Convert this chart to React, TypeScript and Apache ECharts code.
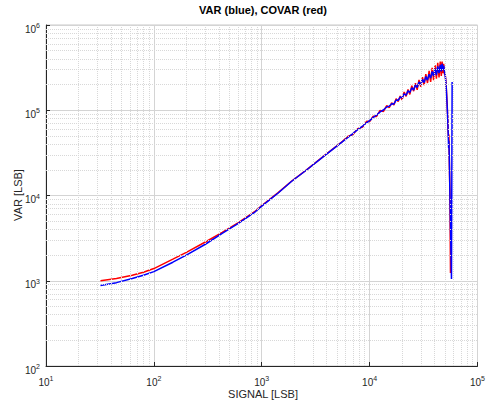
import React, { useEffect, useRef } from "react";
import * as echarts from "echarts";

// ---- data ----
const SIGNAL_RED = [
  32, 45, 63, 80, 100, 150, 200, 300, 430, 607, 865, 1000, 1420, 1884, 2600, 3830, 5500,
  6200, 7000, 7750, 8600, 9400, 10000, 10800, 11600, 12500, 13400, 14400, 15200, 15700,
  16000, 16800, 17600, 18400, 19200, 20000, 20900, 21800, 22700, 23600, 24600, 25600, 26600,
  27600, 28700, 29800, 30900, 32000, 33200, 34400, 35600, 36800, 38000, 39200, 40400, 41600,
  42800, 44000, 45200, 46200, 47000, 47800, 48600, 49400, 50200,
  50500, 51300, 52300, 53000, 53500, 54000, 54300, 55000, 55500, 56200,
];
const COVAR_RED = [
  1000, 1060, 1160, 1260, 1390, 1790, 2150, 2850, 3700, 4800, 6500, 7600, 10800, 14700, 20000, 29500, 42200,
  48900, 51900, 60800, 63500, 74400, 73700, 85300, 84500, 99800, 96400, 113400, 107400, 116000,
  122700, 115100, 136700, 126600, 147000, 132600, 163700, 145400, 175400, 153200, 194400, 167300, 207400,
  173600, 226700, 188700, 245200, 197300, 264600, 208800, 289900, 214800, 313600, 225200, 337700, 235300,
  359500, 241900, 372200, 253300, 373300, 273000, 349800, 266800, 260100,
  246000, 190000, 120000, 80000, 55000, 48000, 52000, 20000, 10600, 1230,
];
const SIGNAL_BLUE = [
  32, 45, 63, 80, 100, 150, 200, 300, 430, 607, 865, 1000, 1420, 1884, 2600, 3830, 5500,
  6200, 7000, 7750, 8600, 9400, 10000, 10800, 11600, 12500, 13400, 14400, 15200, 15700,
  16000, 16800, 17600, 18400, 19200, 20000, 20900, 21800, 22700, 23600, 24600, 25600, 26600,
  27600, 28700, 29800, 30900, 32000, 33200, 34400, 35600, 36800, 38000, 39200, 40400, 41600,
  42800, 44000, 45200, 46200, 47000, 47800, 48600, 49400, 50200,
  50500, 51300, 52300, 53000, 53500, 54000, 54300, 54800, 55500, 56500, 57400, 58200,
];
const VAR_BLUE = [
  880, 950, 1065, 1160, 1280, 1650, 2000, 2680, 3600, 4700, 6400, 7500, 10700, 14600, 19900, 29300, 42000,
  47300, 53300, 59300, 65000, 71800, 75600, 82500, 87400, 95800, 100600, 109100, 111900, 115800,
  119200, 118700, 131600, 130600, 142900, 139800, 156200, 150000, 168900, 161700, 183900, 172700, 197900,
  185300, 214500, 199200, 230000, 210700, 248300, 225600, 265100, 237800, 284600, 252300, 307000, 258200,
  327100, 272200, 341200, 284900, 350800, 295800, 333900, 281300, 255000,
  240000, 185000, 115000, 78000, 53000, 36000, 44000, 28000, 10600, 3000, 1050, 215000,
];

const X_MIN = 10;
const X_MAX = 100000;
const Y_MIN = 100;
const Y_MAX = 1000000;
const DECADES_X = [10, 100, 1000, 10000];
const DECADES_Y = [100, 1000, 10000, 100000];
const MINOR_STEPS = [2, 3, 4, 5, 6, 7, 8, 9];

const TITLE = "VAR (blue), COVAR (red)";
const X_NAME = "SIGNAL [LSB]";
const Y_NAME = "VAR [LSB]";

const FONT = "Liberation Sans, Arial, Helvetica, sans-serif";
const AXIS_COLOR = "#262626";

export default function App() {
  const ref = useRef<HTMLDivElement>(null);

  useEffect(() => {
    if (!ref.current) return;
    const chart = echarts.init(ref.current, undefined, { renderer: "svg" });

    const zip = (xs: number[], ys: number[]) => xs.map((x, i) => [x, ys[i]]);

    const minorX: any[] = [];
    DECADES_X.forEach((d) => MINOR_STEPS.forEach((k) => minorX.push({ xAxis: d * k })));
    const minorY: any[] = [];
    DECADES_Y.forEach((d) => MINOR_STEPS.forEach((k) => minorY.push({ yAxis: d * k })));

    const rich = {
      b: { fontSize: 10, color: AXIS_COLOR, fontFamily: FONT },
      e: { fontSize: 7, color: AXIS_COLOR, fontFamily: FONT, padding: [0, 0, 7, 0] },
    };
    const fmt = (v: number) => `{b|10}{e|${Math.round(Math.log10(v))}}`;

    chart.setOption({
      animation: false,
      backgroundColor: "#ffffff",
      grid: {
        left: 46,
        right: 8,
        top: 25,
        bottom: 38,
        show: true,
        borderColor: "#c8c8c8",
        borderWidth: 1,
      },
      xAxis: {
        type: "log",
        logBase: 10,
        min: X_MIN,
        max: X_MAX,
        axisLine: { show: true, lineStyle: { color: AXIS_COLOR, width: 1 } },
        axisTick: { show: true, inside: true, length: 4, lineStyle: { color: AXIS_COLOR } },
        axisLabel: { formatter: fmt, rich, margin: 9 },
        splitLine: { show: true, lineStyle: { color: "#d4d4d4", width: 1 } },
      },
      yAxis: {
        type: "log",
        logBase: 10,
        min: Y_MIN,
        max: Y_MAX,
        axisLine: { show: true, lineStyle: { color: AXIS_COLOR, width: 1 } },
        axisTick: { show: true, inside: true, length: 4, lineStyle: { color: AXIS_COLOR } },
        axisLabel: { formatter: fmt, rich, margin: 6, padding: [8, 0, 0, 0] },
        splitLine: { show: true, lineStyle: { color: "#d4d4d4", width: 1 } },
      },
      graphic: [
        {
          type: "text",
          x: 263,
          y: 10,
          style: {
            text: TITLE,
            font: `bold 11px ${FONT}`,
            fill: "#000",
            textAlign: "center",
            textVerticalAlign: "middle",
          },
        },
        {
          type: "text",
          x: 263,
          y: 394,
          style: {
            text: X_NAME,
            font: `11px ${FONT}`,
            fill: AXIS_COLOR,
            textAlign: "center",
            textVerticalAlign: "middle",
          },
        },
        {
          type: "text",
          x: 18,
          y: 195,
          rotation: Math.PI / 2,
          style: {
            text: Y_NAME,
            font: `11px ${FONT}`,
            fill: AXIS_COLOR,
            textAlign: "center",
            textVerticalAlign: "middle",
          },
        },
      ],
      series: [
        {
          name: "grid",
          type: "line",
          data: [],
          silent: true,
          z: 1,
          markLine: {
            silent: true,
            symbol: ["none", "none"],
            label: { show: false },
            lineStyle: { color: "#d8d8d8", type: [1, 1], width: 1 },
            data: [...minorX, ...minorY],
          },
        },
        {
          name: "COVAR",
          type: "line",
          data: zip(SIGNAL_RED, COVAR_RED),
          showSymbol: false,
          lineStyle: { color: "#ff0000", width: 1.5 },
          z: 3,
        },
        {
          name: "VAR",
          type: "line",
          data: zip(SIGNAL_BLUE, VAR_BLUE),
          showSymbol: false,
          lineStyle: { color: "#0000ff", width: 1.5 },
          z: 4,
        },
      ],
    });

    return () => chart.dispose();
  }, []);

  return (
    <div
      ref={ref}
      style={{ position: "fixed", left: 0, top: 0, width: 488, height: 404, background: "#fff" }}
    />
  );
}
